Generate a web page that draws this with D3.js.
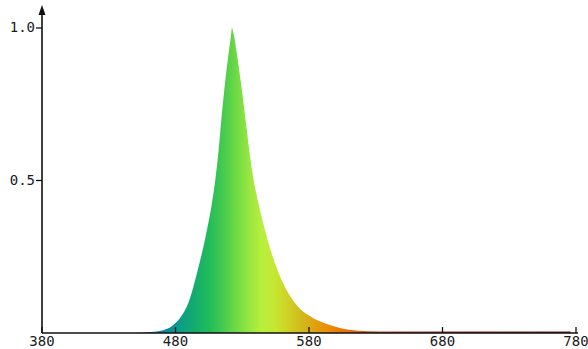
<!DOCTYPE html>
<html>
<head>
<meta charset="utf-8">
<script src="https://cdn.jsdelivr.net/npm/d3@7"></script>
<style>
  html, body { margin: 0; padding: 0; background: #fff; }
  svg { display: block; }
  text { font-family: "DejaVu Sans Mono", monospace; font-size: 14px; fill: #1a1a1a; }
</style>
</head>
<body>
<svg id="chart" width="588" height="349"></svg>
<script>
// wavelength (nm) and relative intensity
const wavelengths = [380, 445, 455, 462, 470, 477.4, 483.4, 489.6, 496.7, 502.5, 507.3, 509.8, 512.1, 514.3,
  516.8, 519.8, 521.6, 522.3, 523.7, 525.9, 529.4, 532.5, 535.5, 538.5, 542.1, 548.4, 556.3, 569.5,
  583, 591.2, 603.2, 616.7, 633, 680, 730, 776];
const intensity = [0, 0, 0.001, 0.003, 0.008, 0.023, 0.049, 0.098, 0.207, 0.315, 0.426, 0.502, 0.59, 0.698,
  0.807, 0.918, 0.977, 1.0, 0.977, 0.918, 0.807, 0.698, 0.59, 0.502, 0.426, 0.315, 0.207, 0.098,
  0.049, 0.033, 0.0164, 0.0075, 0.005, 0.005, 0.005, 0.005];

// colour of each wavelength band
const colorStops = [380, 450, 462, 475, 485, 495, 505, 515, 525, 535, 545, 555, 565, 575, 585, 595, 610, 640, 700, 780];
const colorValues = ["#5a2a8a", "#2a4fb0", "#1e78c0", "#0a8c98", "#0ea084", "#14ad6c", "#20bc5a", "#45c950",
  "#6cd944", "#98e640", "#b8f03c", "#c6e632", "#d0d024", "#d2b81a", "#e0a010", "#ec8a06", "#e86a10", "#c83a1c", "#9a1e1e", "#7a1414"];

const xTicks = [380, 480, 580, 680, 780];
const yTicks = [0.5, 1.0];

const svg = d3.select('#chart');

const x = d3.scaleLinear().domain([380, 780]).range([42, 576]);
const y = d3.scaleLinear().domain([0, 1]).range([333, 28]);

const defs = svg.append('defs');
const grad = defs.append('linearGradient')
  .attr('id', 'spectrum')
  .attr('gradientUnits', 'userSpaceOnUse')
  .attr('x1', x(380)).attr('x2', x(780))
  .attr('y1', 0).attr('y2', 0);
grad.selectAll('stop')
  .data(colorStops)
  .join('stop')
  .attr('offset', d => (d - 380) / 400)
  .attr('stop-color', (d, i) => colorValues[i]);

const data = wavelengths.map((w, i) => ({ w, v: intensity[i] }));

const area = d3.area()
  .x(d => x(d.w))
  .y0(y(0))
  .y1(d => y(d.v))
  .curve(d3.curveMonotoneX);

svg.append('path')
  .datum(data)
  .attr('d', area)
  .attr('fill', 'url(#spectrum)');

// axes
const axes = svg.append('g')
  .attr('stroke', '#111')
  .attr('stroke-width', 1.6)
  .attr('fill', 'none');

axes.append('line')
  .attr('x1', x(380)).attr('x2', x(780) + 2)
  .attr('y1', y(0)).attr('y2', y(0));

axes.append('line')
  .attr('x1', x(380)).attr('x2', x(380))
  .attr('y1', y(0)).attr('y2', 12);

svg.append('path')
  .attr('d', `M${x(380)},5 L${x(380) - 3.5},15 L${x(380) + 3.5},15 Z`)
  .attr('fill', '#111');

axes.selectAll('.xt')
  .data(xTicks)
  .join('line')
  .attr('x1', d => x(d)).attr('x2', d => x(d))
  .attr('y1', y(0)).attr('y2', y(0) - 6)
  .attr('stroke-width', 1.3);

axes.selectAll('.yt')
  .data(yTicks)
  .join('line')
  .attr('x1', x(380) - 6).attr('x2', x(380))
  .attr('y1', d => y(d)).attr('y2', d => y(d))
  .attr('stroke-width', 1.3);

svg.selectAll('.xl')
  .data(xTicks)
  .join('text')
  .attr('x', d => x(d))
  .attr('y', 346)
  .attr('text-anchor', 'middle')
  .text(d => d);

svg.selectAll('.yl')
  .data(yTicks)
  .join('text')
  .attr('x', x(380) - 7)
  .attr('y', d => y(d) + 4)
  .attr('text-anchor', 'end')
  .text(d => d.toFixed(1));
</script>
</body>
</html>
